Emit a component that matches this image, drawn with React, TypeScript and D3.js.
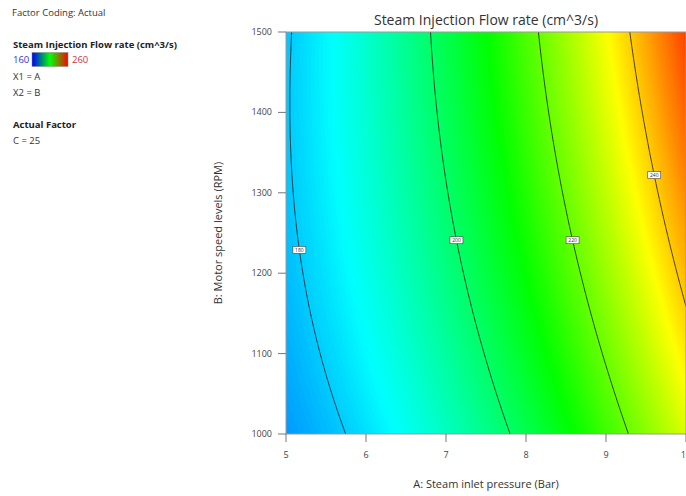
import { useEffect, useRef } from "react";
import * as d3 from "d3";

// model coefficients (coded units): b0, A, B, AB, A^2, B^2
const coefficients = [204.9, 32.7, 6.65, 4.48, 6.7, -1.75];
const levels = [180, 200, 220, 240];
// motor speed (B) where each contour label sits
const labelSpeeds = [1229, 1241, 1241, 1322];
const xTicks = [5, 6, 7, 8, 9, 10];
const yTicks = [1000, 1100, 1200, 1300, 1400, 1500];
const colorStops = [160, 185, 210, 235, 260];
const colorRange = ["#0000ff", "#00ffff", "#00ff00", "#ffff00", "#ff0000"];

const W = 686;
const H = 496;
const left = 286,
  right = 686,
  top = 32,
  bottom = 434;
const font = "'Open Sans', 'Noto Sans', sans-serif";

function response(A: number, B: number) {
  const a = (A - 7.5) / 2.5;
  const b = (B - 1250) / 250;
  const [b0, bA, bB, bAB, bAA, bBB] = coefficients;
  return b0 + bA * a + bB * b + bAB * a * b + bAA * a * a + bBB * b * b;
}

export default function App() {
  const ref = useRef<SVGSVGElement>(null);

  useEffect(() => {
    const svg = d3.select(ref.current);
    svg.selectAll("*").remove();

    const x = d3.scaleLinear().domain([5, 10]).range([left, right]);
    const y = d3.scaleLinear().domain([1000, 1500]).range([bottom, top]);
    const color = d3.scaleLinear<string>().domain(colorStops).range(colorRange).clamp(true);

    const nA = 121,
      nB = 121;
    const dA = 5 / (nA - 1),
      dB = 500 / (nB - 1);
    const values: number[] = [];
    for (let j = 0; j < nB; j++) {
      for (let i = 0; i < nA; i++) {
        values.push(response(5 + i * dA, 1000 + j * dB));
      }
    }
    const path = d3.geoPath(
      d3.geoTransform({
        point(px: number, py: number) {
          this.stream.point(x(5 + (px - 0.5) * dA), y(1000 + (py - 0.5) * dB));
        },
      })
    );

    svg
      .append("defs")
      .append("clipPath")
      .attr("id", "plotclip")
      .append("rect")
      .attr("x", left)
      .attr("y", top)
      .attr("width", right - left)
      .attr("height", bottom - top);

    const plot = svg.append("g").attr("clip-path", "url(#plotclip)");
    const fillThresholds = d3.range(150, 262, 0.5);
    const fills = d3.contours().size([nA, nB]).thresholds(fillThresholds)(values);
    plot
      .selectAll("path.fill")
      .data(fills)
      .join("path")
      .attr("d", (d) => path(d as any))
      .attr("fill", (d) => color(d.value + 0.25));

    const lines = d3.contours().size([nA, nB]).thresholds(levels)(values);
    plot
      .selectAll("path.line")
      .data(lines)
      .join("path")
      .attr("d", (d) => path(d as any))
      .attr("fill", "none")
      .attr("stroke", "#1a1a1a")
      .attr("stroke-opacity", 0.8)
      .attr("stroke-width", 1);

    // contour labels
    levels.forEach((lv, k) => {
      const B = labelSpeeds[k];
      let lo = 5,
        hi = 10;
      for (let it = 0; it < 40; it++) {
        const mid = (lo + hi) / 2;
        if (response(mid, B) < lv) lo = mid;
        else hi = mid;
      }
      const cx = x((lo + hi) / 2);
      const cy = y(B);
      plot
        .append("rect")
        .attr("x", cx - 6.5)
        .attr("y", cy - 3.5)
        .attr("width", 13)
        .attr("height", 7)
        .attr("fill", "#fff")
        .attr("stroke", "#444")
        .attr("stroke-width", 0.6);
      plot
        .append("text")
        .attr("x", cx)
        .attr("y", cy + 1.8)
        .attr("text-anchor", "middle")
        .attr("font-size", 5)
        .attr("font-family", font)
        .attr("fill", "#333")
        .text(lv);
    });

    svg
      .append("rect")
      .attr("x", left)
      .attr("y", top)
      .attr("width", right - left)
      .attr("height", bottom - top)
      .attr("fill", "none")
      .attr("stroke", "#999")
      .attr("stroke-width", 1);

    const axisColor = "#777";
    const xa = svg.append("g");
    xTicks.forEach((t) => {
      xa.append("line")
        .attr("x1", x(t))
        .attr("x2", x(t))
        .attr("y1", bottom)
        .attr("y2", bottom + 8)
        .attr("stroke", axisColor);
      xa.append("text")
        .attr("x", x(t))
        .attr("y", bottom + 24)
        .attr("text-anchor", "middle")
        .attr("font-size", 9)
        .attr("font-family", font)
        .attr("fill", "#444")
        .text(t);
    });
    const ya = svg.append("g");
    yTicks.forEach((t) => {
      ya.append("line")
        .attr("x1", left - 8)
        .attr("x2", left)
        .attr("y1", y(t))
        .attr("y2", y(t))
        .attr("stroke", axisColor);
      ya.append("text")
        .attr("x", left - 14)
        .attr("y", y(t) + 3)
        .attr("text-anchor", "end")
        .attr("font-size", 9)
        .attr("font-family", font)
        .attr("fill", "#444")
        .text(t);
    });

    svg
      .append("text")
      .attr("x", (left + right) / 2)
      .attr("y", 25)
      .attr("text-anchor", "middle")
      .attr("font-size", 14)
      .attr("font-family", font)
      .attr("fill", "#333")
      .text("Steam Injection Flow rate (cm^3/s)");
    svg
      .append("text")
      .attr("x", (left + right) / 2)
      .attr("y", 488)
      .attr("text-anchor", "middle")
      .attr("font-size", 11)
      .attr("font-family", font)
      .attr("fill", "#333")
      .text("A: Steam inlet pressure (Bar)");
    svg
      .append("text")
      .attr("transform", `translate(222,${(top + bottom) / 2}) rotate(-90)`)
      .attr("text-anchor", "middle")
      .attr("font-size", 11)
      .attr("font-family", font)
      .attr("fill", "#333")
      .text("B: Motor speed levels (RPM)");

    // left info panel
    const info = svg.append("g").attr("font-family", font).attr("fill", "#333");
    const addText = (tx: number, ty: number, s: string, bold = false, fill = "#333") =>
      info
        .append("text")
        .attr("x", tx)
        .attr("y", ty)
        .attr("font-size", 9.5)
        .attr("font-weight", bold ? "bold" : "normal")
        .attr("fill", fill)
        .text(s);
    addText(12, 16, "Factor Coding: Actual");
    addText(13, 48, "Steam Injection Flow rate (cm^3/s)", true, "#222");
    addText(13, 63, "160", false, "#3333cc");
    const grad = svg.select("defs").append("linearGradient").attr("id", "legendgrad");
    grad.append("stop").attr("offset", "0%").attr("stop-color", "#0000ff");
    grad.append("stop").attr("offset", "50%").attr("stop-color", "#00ff00");
    grad.append("stop").attr("offset", "100%").attr("stop-color", "#ff0000");
    info
      .append("rect")
      .attr("x", 32)
      .attr("y", 52.5)
      .attr("width", 36)
      .attr("height", 14)
      .attr("fill", "url(#legendgrad)")
      .attr("stroke", "#888")
      .attr("stroke-width", 0.5);
    addText(72, 63, "260", false, "#cc3333");
    addText(13, 80, "X1 = A");
    addText(13, 96, "X2 = B");
    addText(13, 128, "Actual Factor", true, "#222");
    addText(13, 144, "C = 25");
  }, []);

  return (
    <svg
      ref={ref}
      width={W}
      height={H}
      style={{ position: "absolute", left: 0, top: 0, background: "#fff" }}
    />
  );
}
